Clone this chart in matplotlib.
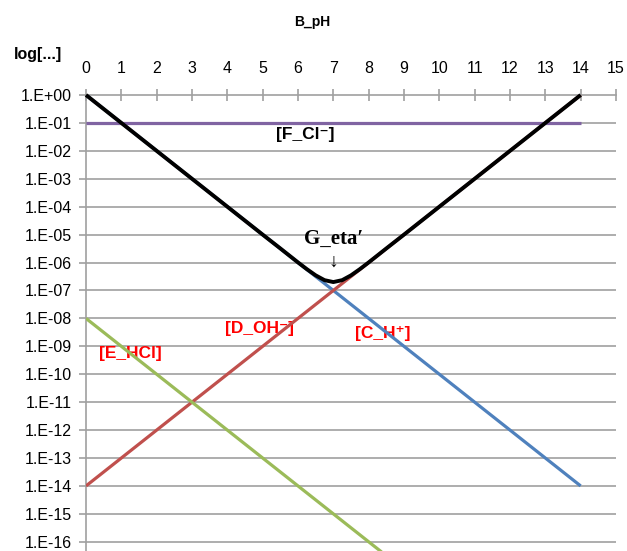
import matplotlib
matplotlib.use("Agg")
import matplotlib.pyplot as plt
from matplotlib.ticker import FixedLocator, NullLocator

# ---- data ----
ph_line = [0, 14]
h_conc = [1e0, 1e-14]          # [C_H+]
oh_conc = [1e-14, 1e0]         # [D_OH-]
hcl_conc = [1e-8, 1e-22]       # [E_HCl]
cl_conc = [1e-1, 1e-1]         # [F_Cl-]

ph_total = [0, 1, 2, 3, 4, 5, 5.5, 6, 6.25, 6.5, 6.75, 7, 7.25, 7.5, 7.75, 8, 8.5,
            9, 10, 11, 12, 13, 14]
total_conc = [1.0, 1e-1, 1e-2, 1e-3, 1e-4, 1e-5, 3.2e-6, 1.01e-6, 5.8e-7, 3.48e-7,
              2.34e-7, 2.0e-7, 2.34e-7, 3.48e-7, 5.8e-7, 1.01e-6, 3.2e-6,
              1e-5, 1e-4, 1e-3, 1e-2, 1e-1, 1.0]

x_ticks = list(range(0, 16))
y_exps = list(range(0, -17, -1))
y_labels = ["1.E+00"] + ["1.E-%02d" % (-e) for e in y_exps[1:]]

labels = ["[F_Cl⁻]", "[D_OH⁻]", "[C_H⁺]", "[E_HCl]"]
label_pos = [(6.2, 10**-1.4), (4.9, 10**-8.35), (8.4, 10**-8.55), (1.25, 10**-9.25)]
label_colors = ["black", "red", "red", "red"]

# ---- figure ----
fig = plt.figure(figsize=(6.27, 5.51), dpi=100)
ax = fig.add_axes([86 / 627, 0.0, 530 / 627, 1 - 95 / 551])
ax.set_yscale("log")
ax.set_xlim(0, 15)
ax.set_ylim(10**-16.33, 1.0)

grid_c = "#a0a0a0"
for e in y_exps[1:]:
    ax.axhline(10.0**e, color=grid_c, lw=1.2, zorder=0.5)

ax.plot(ph_line, h_conc, color="#4f81bd", lw=2.3, zorder=3, solid_capstyle="butt")
ax.plot(ph_line, oh_conc, color="#c0504d", lw=2.3, zorder=3.1, solid_capstyle="butt")
ax.plot(ph_line, hcl_conc, color="#9bbb59", lw=2.3, zorder=3.2, solid_capstyle="butt")
ax.plot(ph_line, cl_conc, color="#8064a2", lw=2.3, zorder=3.3, solid_capstyle="butt")
ax.plot(ph_total, total_conc, color="black", lw=2.8, zorder=4, clip_on=False,
        solid_capstyle="butt")

for txt, (x, y), c in zip(labels, label_pos, label_colors):
    ax.text(x, y, txt, color=c, fontsize=12.5, fontweight="bold",
            family=["Liberation Sans", "DejaVu Sans"], ha="center", va="center",
            zorder=2)

ax.text(7.0, 10**-5.15, "G_eta′", fontsize=15, fontweight="bold",
        family=["Liberation Serif", "DejaVu Serif"], ha="center", va="center", zorder=5)
ax.text(7.0, 10**-6.0, "↓", fontsize=14,
        family=["Liberation Serif", "DejaVu Serif"], ha="center", va="center", zorder=5)

# axes styling
for s in ["right", "bottom"]:
    ax.spines[s].set_visible(False)
for s in ["top", "left"]:
    ax.spines[s].set_color(grid_c)
    ax.spines[s].set_linewidth(1.2)

ax.xaxis.tick_top()
ax.set_xticks(x_ticks)
ax.set_xticklabels([str(v) for v in x_ticks])
ax.tick_params(axis="x", direction="inout", length=8, width=1.2, color=grid_c,
               pad=10, labelsize=11.5)
ax.yaxis.set_major_locator(FixedLocator([10.0**e for e in y_exps]))
ax.yaxis.set_minor_locator(NullLocator())
ax.set_yticklabels(y_labels)
ax.tick_params(axis="y", direction="out", length=5, width=1.2, color=grid_c,
               pad=5, labelsize=11.5)
for lab in ax.get_xticklabels() + ax.get_yticklabels():
    lab.set_family(["Liberation Sans", "DejaVu Sans"])

fig.text(312 / 627, 1 - 22 / 551, "B_pH", fontsize=10, fontweight="bold",
         family=["Liberation Sans", "DejaVu Sans"], ha="center", va="center")
fig.text(38 / 627, 1 - 54 / 551, "log[...]", fontsize=11.5, fontweight="bold",
         family=["Liberation Sans", "DejaVu Sans"], ha="center", va="center")

fig.savefig("out.png", dpi=100)
